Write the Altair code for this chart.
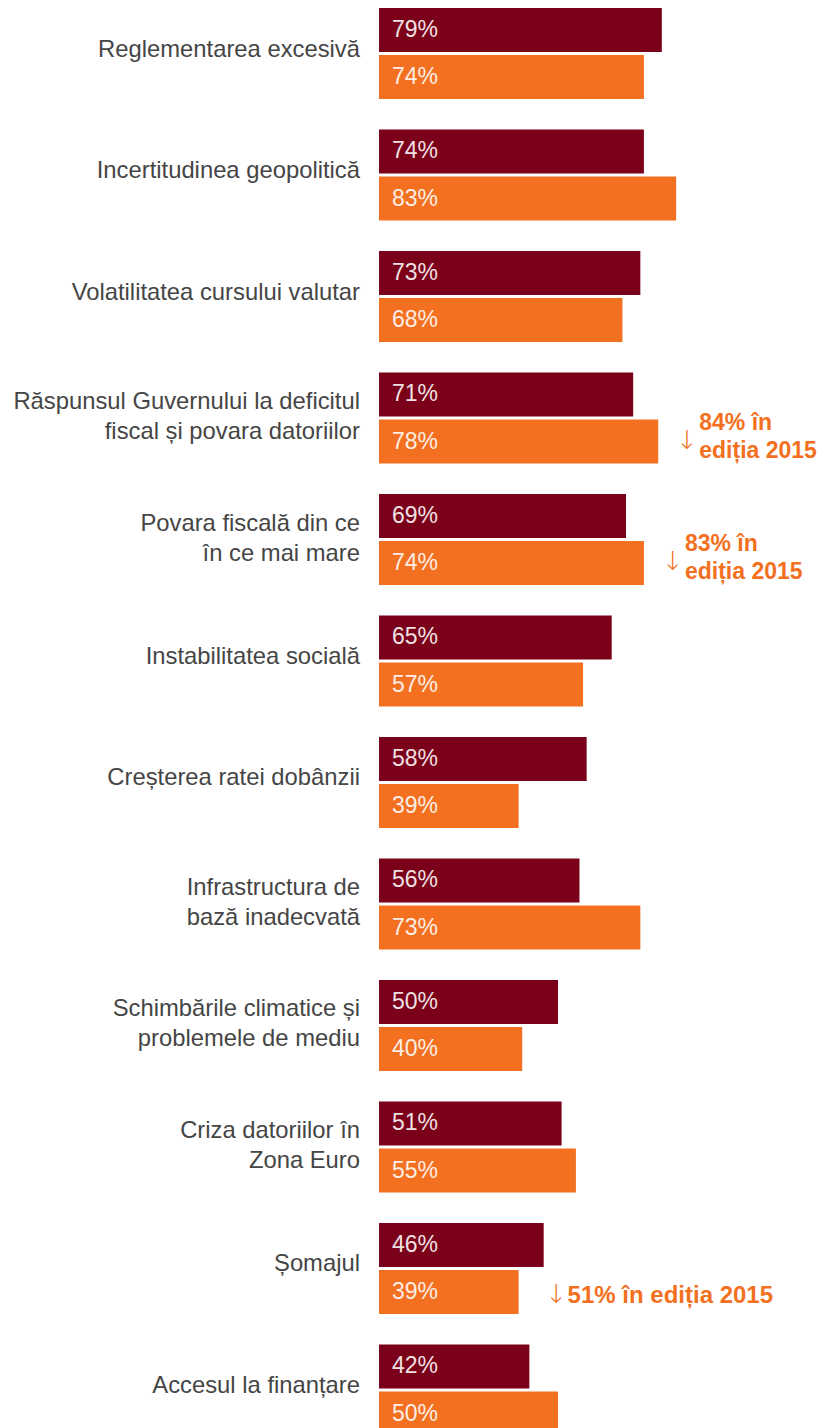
import altair as alt
import pandas as pd

categories = [
    "Reglementarea excesivă",
    "Incertitudinea geopolitică",
    "Volatilitatea cursului valutar",
    "Răspunsul Guvernului la deficitul|fiscal și povara datoriilor",
    "Povara fiscală din ce|în ce mai mare",
    "Instabilitatea socială",
    "Creșterea ratei dobânzii",
    "Infrastructura de|bază inadecvată",
    "Schimbările climatice și|problemele de mediu",
    "Criza datoriilor în|Zona Euro",
    "Șomajul",
    "Accesul la finanțare",
]
series = ["2016", "2015"]
values_2016 = [79, 74, 73, 71, 69, 65, 58, 56, 50, 51, 46, 42]
values_2015 = [74, 83, 68, 78, 74, 57, 39, 73, 40, 55, 39, 50]

ann_categories = [
    "Răspunsul Guvernului la deficitul|fiscal și povara datoriilor",
    "Povara fiscală din ce|în ce mai mare",
    "Șomajul",
]
ann_texts = ["84% în|ediția 2015", "83% în|ediția 2015", "51% în ediția 2015"]
ann_kind = ["two", "two", "one"]

DARK = "#7B0019"
ORANGE = "#F37021"
FONT = "Liberation Sans"

rows = []
for c, a, b in zip(categories, values_2016, values_2015):
    rows.append({"cat": c, "series": series[0], "value": a})
    rows.append({"cat": c, "series": series[1], "value": b})
bars_df = pd.DataFrame(rows)

cat_df = pd.DataFrame({"cat": categories})

v15 = dict(zip(categories, values_2015))
ann_df = pd.DataFrame({
    "cat": ann_categories,
    "series": [series[1]] * len(ann_categories),
    "value": [v15[c] for c in ann_categories],
    "text": ann_texts,
    "kind": ann_kind,
})

y_scale = alt.Scale(domain=categories, paddingInner=0.251, paddingOuter=0, range=[0, 1427.5])
y_enc = alt.Y("cat:N", sort=categories, scale=y_scale, axis=None)
yoff = alt.YOffset("series:N", sort=series,
                   scale=alt.Scale(domain=series, paddingInner=0.064, paddingOuter=0))
x_enc = alt.X("value:Q", scale=alt.Scale(domain=[0, 100]), axis=None)

bars = alt.Chart(bars_df).mark_bar().encode(
    x=x_enc, y=y_enc, yOffset=yoff,
    color=alt.Color("series:N", scale=alt.Scale(domain=series, range=[DARK, ORANGE]), legend=None),
)

vals = alt.Chart(bars_df).transform_calculate(
    label="datum.value + '%'"
).mark_text(
    align="left", baseline="middle", dx=13, dy=0, fontSize=23, font=FONT,
    color="white", opacity=0.88,
).encode(
    x=alt.value(0), y=y_enc, yOffset=yoff, text="label:N",
)

cat_base = alt.Chart(cat_df).transform_calculate(
    lines="split(datum.cat, '|')", n="length(split(datum.cat, '|'))"
)

cat_one = cat_base.transform_filter("datum.n == 1").mark_text(
    align="right", baseline="middle", dy=-4, fontSize=23.8, lineHeight=30,
    font=FONT, color="#454545",
).encode(x=alt.value(-19), y=y_enc, text="lines:N")

cat_two = cat_base.transform_filter("datum.n == 2").mark_text(
    align="right", baseline="middle", dy=-16, fontSize=23.8, lineHeight=30,
    font=FONT, color="#454545",
).encode(x=alt.value(-19), y=y_enc, text="lines:N")

ann_base = alt.Chart(ann_df)

arrow_two = ann_base.transform_filter("datum.kind == 'two'").mark_text(
    align="left", baseline="middle", dx=18, dy=-1, fontSize=26, fontWeight=300,
    font="DejaVu Sans", color=ORANGE,
).encode(x=x_enc, y=y_enc, yOffset=yoff, text=alt.value("↓"))

text_two = ann_base.transform_filter("datum.kind == 'two'").transform_calculate(
    lines="split(datum.text, '|')"
).mark_text(
    align="left", baseline="middle", dx=41, dy=-19, fontSize=23, lineHeight=28,
    font=FONT, fontWeight="bold", color=ORANGE,
).encode(x=x_enc, y=y_enc, yOffset=yoff, text="lines:N")

arrow_one = ann_base.transform_filter("datum.kind == 'one'").mark_text(
    align="left", baseline="middle", dx=27, dy=3, fontSize=26, fontWeight=300,
    font="DejaVu Sans", color=ORANGE,
).encode(x=x_enc, y=y_enc, yOffset=yoff, text=alt.value("↓"))

text_one = ann_base.transform_filter("datum.kind == 'one'").mark_text(
    align="left", baseline="middle", dx=49, dy=4, fontSize=24,
    font=FONT, fontWeight="bold", color=ORANGE,
).encode(x=x_enc, y=y_enc, yOffset=yoff, text="text:N")

chart = alt.layer(
    bars, vals, cat_one, cat_two, arrow_two, text_two, arrow_one, text_one
).properties(
    width=358, height=1420,
    autosize=alt.AutoSizeParams(type="none"),
    padding={"left": 371, "top": 0, "right": 90, "bottom": 0},
).configure_view(stroke=None)

chart.save("out.html", embed_options={"renderer": "svg", "actions": False})
